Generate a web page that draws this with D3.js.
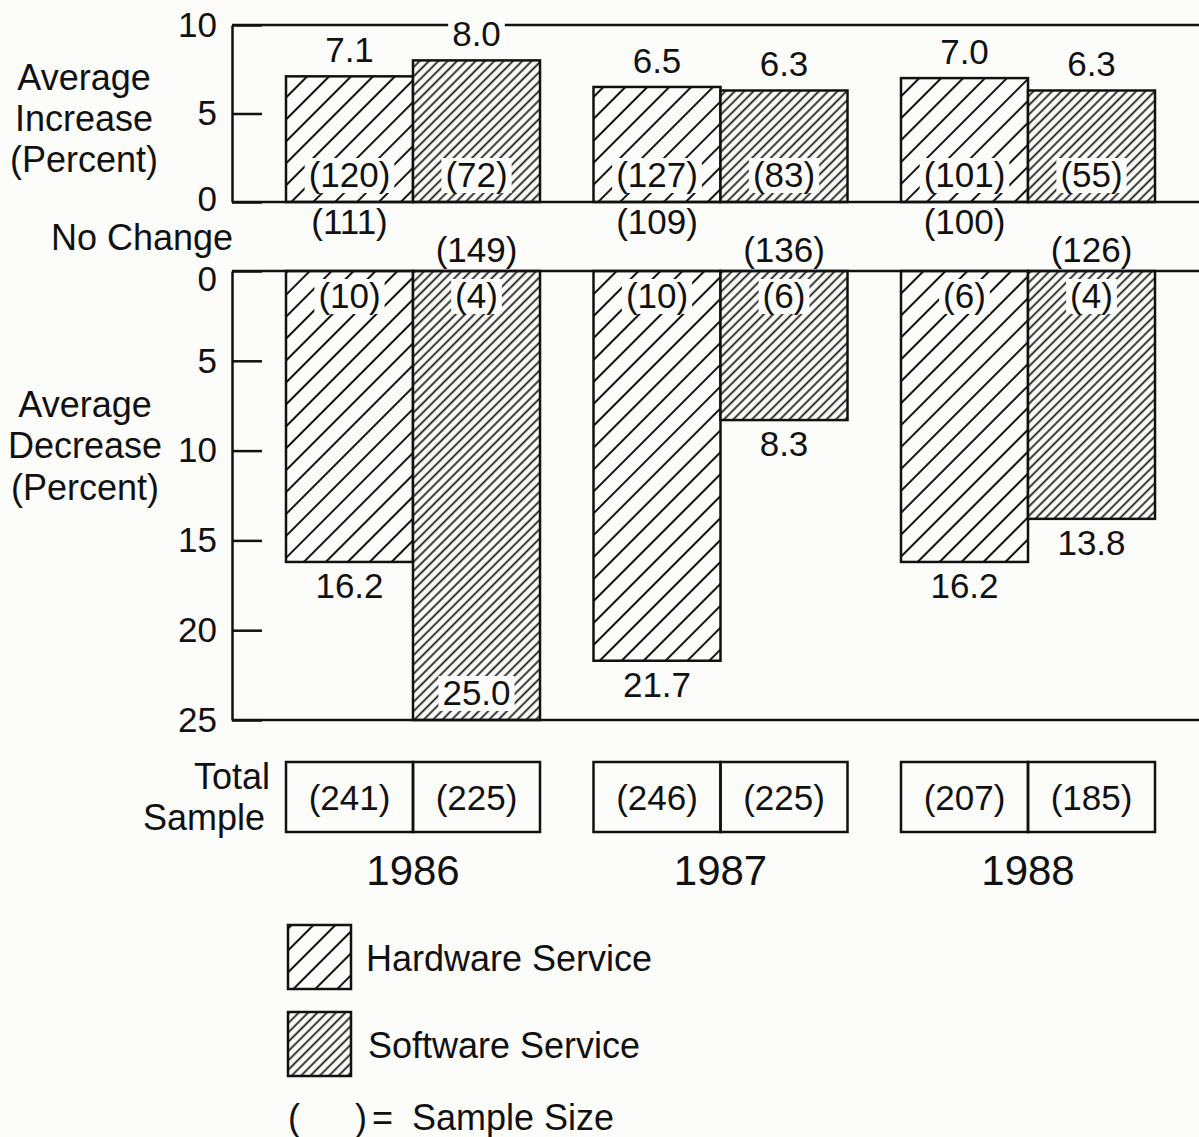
<!DOCTYPE html>
<html><head><meta charset="utf-8">
<script src="https://cdn.jsdelivr.net/npm/d3@7"></script>
<style>
body{margin:0;background:#fcfcfa;}
svg{display:block;}
text{font-family:"Liberation Sans",Arial,Helvetica,sans-serif;fill:#111;}
</style>
</head><body><svg id="c" width="1199" height="1137"></svg>
<script>
const years = ["1986","1987","1988"];
const seriesNames = ["Hardware Service","Software Service"];
const hardwareIncrease = [7.1,6.5,7.0];
const softwareIncrease = [8.0,6.3,6.3];
const hardwareIncreaseN = [120,127,101];
const softwareIncreaseN = [72,83,55];
const hardwareNoChangeN = [111,109,100];
const softwareNoChangeN = [149,136,126];
const hardwareDecrease = [16.2,21.7,16.2];
const softwareDecrease = [25.0,8.3,13.8];
const hardwareDecreaseN = [10,10,6];
const softwareDecreaseN = [4,6,4];
const hardwareTotal = [241,246,207];
const softwareTotal = [225,225,185];
const increaseTicks = [0,5,10];
const decreaseTicks = [0,5,10,15,20,25];

const BG = "#fcfcfa", INK = "#111";
const W = 1199, axisX = 232, FS = 35, FW = 36;

const rows = years.flatMap((y,i)=>[
  {year:y, s:seriesNames[0], pat:"hw", inc:hardwareIncrease[i], incN:hardwareIncreaseN[i], ncN:hardwareNoChangeN[i], dec:hardwareDecrease[i], decN:hardwareDecreaseN[i], tot:hardwareTotal[i]},
  {year:y, s:seriesNames[1], pat:"sw", inc:softwareIncrease[i], incN:softwareIncreaseN[i], ncN:softwareNoChangeN[i], dec:softwareDecrease[i], decN:softwareDecreaseN[i], tot:softwareTotal[i]}
]);

const svg = d3.select("#c");
svg.append("rect").attr("width",W).attr("height",1137).attr("fill",BG);

// patterns
const defs = svg.append("defs");
function hatch(id, sp, sw){
  const p = defs.append("pattern").attr("id",id).attr("patternUnits","userSpaceOnUse")
    .attr("width",sp).attr("height",sp).attr("patternTransform","rotate(45)");
  p.append("rect").attr("width",sp).attr("height",sp).attr("fill",BG);
  p.append("line").attr("x1",sp/2).attr("x2",sp/2).attr("y1",-1).attr("y2",sp+1)
    .attr("stroke",INK).attr("stroke-width",sw);
}
hatch("hw",15.5,2);
hatch("sw",6.6,1.7);

const xGroup = d3.scalePoint().domain(years).range([413,1028]);
const xSub = d3.scaleBand().domain(seriesNames).range([-127,127]).padding(0);
const bx = d => xGroup(d.year) + xSub(d.s);
const cx = d => bx(d) + xSub.bandwidth()/2;
const yInc = d3.scaleLinear().domain([0,10]).range([202,25]);
const yDec = d3.scaleLinear().domain([0,25]).range([271,720]);

function styleAxis(g){
  g.attr("font-size",null).attr("font-family",null);
  g.select(".domain").attr("stroke",INK).attr("stroke-width",2.5);
  g.selectAll(".tick line").attr("stroke",INK).attr("stroke-width",2.5);
  g.selectAll(".tick text").attr("font-size",FS).attr("fill",INK);
}

// bars
const gb = svg.append("g");
gb.selectAll("rect.inc").data(rows).join("rect").attr("class","inc")
  .attr("x",bx).attr("width",xSub.bandwidth())
  .attr("y",d=>yInc(d.inc)).attr("height",d=>yInc(0)-yInc(d.inc))
  .attr("fill",d=>`url(#${d.pat})`).attr("stroke",INK).attr("stroke-width",2.5);
gb.selectAll("rect.dec").data(rows).join("rect").attr("class","dec")
  .attr("x",bx).attr("width",xSub.bandwidth())
  .attr("y",yDec(0)).attr("height",d=>yDec(d.dec)-yDec(0))
  .attr("fill",d=>`url(#${d.pat})`).attr("stroke",INK).attr("stroke-width",2.5);

// frame lines
const frame = svg.append("g").attr("stroke",INK).attr("stroke-width",2.5);
[yInc(10), yInc(0), yDec(0), yDec(25)].forEach(y=>{
  frame.append("line").attr("x1",axisX).attr("x2",W).attr("y1",y).attr("y2",y);
});

// axes
svg.append("g").attr("transform",`translate(${axisX},0)`)
  .call(d3.axisLeft(yInc).tickValues(increaseTicks).tickSizeInner(-30).tickSizeOuter(0).tickPadding(15).tickFormat(d3.format("d")))
  .call(styleAxis)
  .call(g=>g.selectAll(".tick text").filter(d=>d===0).attr("dy","0.25em"));
svg.append("g").attr("transform",`translate(${axisX},0)`)
  .call(d3.axisLeft(yDec).tickValues(decreaseTicks).tickSizeInner(-30).tickSizeOuter(0).tickPadding(15).tickFormat(d3.format("d")))
  .call(styleAxis)
  .call(g=>g.selectAll(".tick text").filter(d=>d===0).attr("dy","0.55em"));

// labels with background
const gl = svg.append("g");
function label(x, y, txt, bg, size){
  const g = gl.append("g");
  const t = g.append("text").attr("x",x).attr("y",y).attr("text-anchor","middle")
    .attr("font-size",size||FS).text(txt);
  if(bg){
    const b = t.node().getBBox();
    g.insert("rect","text").attr("x",b.x-4).attr("y",b.y+3).attr("width",b.width+8).attr("height",b.height-4).attr("fill",BG);
  }
  return t;
}
const fmt1 = d3.format(".1f");
const par = n => `(${n})`;
rows.forEach(d=>{
  label(cx(d), yInc(d.inc)-14, fmt1(d.inc), true);
  label(cx(d), yInc(0)-15, par(d.incN), true);
  const ncY = d.s===seriesNames[0] ? yInc(0)+32 : yDec(0)-9;
  label(cx(d), ncY, par(d.ncN), false);
  label(cx(d), yDec(0)+37, par(d.decN), true);
  let vy = yDec(d.dec)+36;
  const inside = vy > yDec(25)-4;
  if(inside) vy = yDec(25)-15;
  label(cx(d), vy, fmt1(d.dec), inside);
});

// left titles
const titles = svg.append("g").attr("text-anchor","middle").attr("font-size",FW);
[["Average",90],["Increase",131],["(Percent)",172]].forEach(([t,y])=>titles.append("text").attr("x",84).attr("y",y).text(t));
titles.append("text").attr("x",142).attr("y",250).text("No Change");
[["Average",417],["Decrease",458],["(Percent)",500]].forEach(([t,y])=>titles.append("text").attr("x",85).attr("y",y).text(t));
const ts = svg.append("g").attr("text-anchor","end").attr("font-size",FW);
ts.append("text").attr("x",270).attr("y",789).text("Total");
ts.append("text").attr("x",265).attr("y",830).text("Sample");

// total sample boxes
const gt = svg.append("g");
gt.selectAll("rect").data(rows).join("rect")
  .attr("x",bx).attr("width",xSub.bandwidth()).attr("y",762).attr("height",70)
  .attr("fill","none").attr("stroke",INK).attr("stroke-width",2.5);
gt.selectAll("text").data(rows).join("text")
  .attr("x",cx).attr("y",810).attr("text-anchor","middle").attr("font-size",FS)
  .text(d=>par(d.tot));

// year labels
svg.append("g").selectAll("text").data(years).join("text")
  .attr("x",d=>xGroup(d)).attr("y",885).attr("text-anchor","middle").attr("font-size",42).text(d=>d);

// legend
const lg = svg.append("g");
const legendY = [925,1012];
seriesNames.forEach((s,i)=>{
  lg.append("rect").attr("x",288).attr("y",legendY[i]).attr("width",63).attr("height",64)
    .attr("fill",`url(#${i===0?"hw":"sw"})`).attr("stroke",INK).attr("stroke-width",2.5);
  lg.append("text").attr("x",i===0?366:368).attr("y",legendY[i]+46).attr("font-size",FW).text(s);
});
lg.append("text").attr("x",288).attr("y",1130).attr("font-size",FW).text("(");
lg.append("text").attr("x",355).attr("y",1130).attr("font-size",FW).text(")");
lg.append("text").attr("x",372).attr("y",1130).attr("font-size",FW).text("=");
lg.append("text").attr("x",412).attr("y",1130).attr("font-size",FW).text("Sample Size");
</script>
</body></html>
